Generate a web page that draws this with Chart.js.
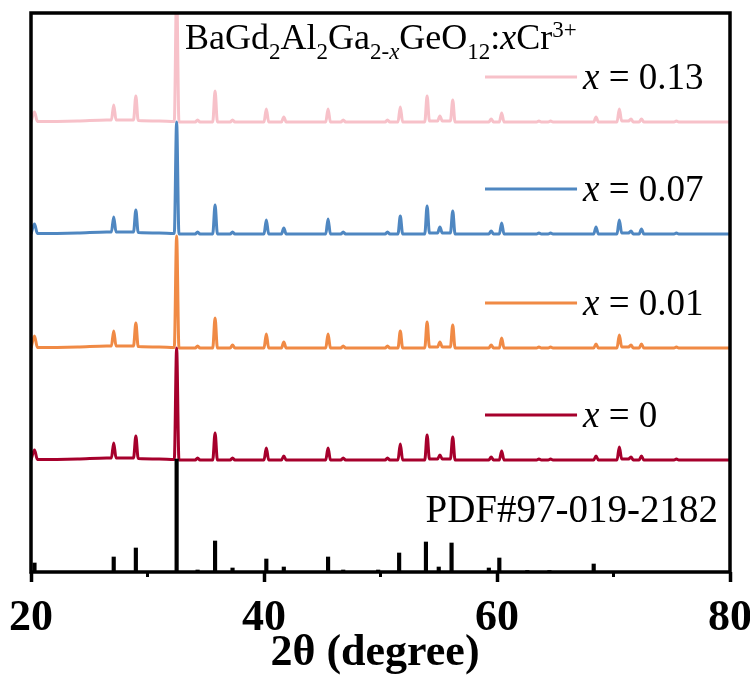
<!DOCTYPE html>
<html>
<head>
<meta charset="utf-8">
<script src="https://cdn.jsdelivr.net/npm/chart.js@4.4.1/dist/chart.umd.min.js"></script>
<style>
  html, body { margin: 0; padding: 0; background: #fff; }
  #wrap { width: 750px; height: 675px; }
</style>
</head>
<body>
<div id="wrap"><canvas id="xrd"></canvas></div>
<script>
// 2theta points shared by the four measured patterns
const twoTheta = [
  20, 20.3, 20.55, 24, 26.5,
  26.9, 27.1, 27.3, 28.8, 29.0, 29.2, 31,
  32.3, 32.5, 32.7, 34.1, 34.3, 34.5, 35.6, 35.8, 36.0,
  37.1, 37.3, 37.5, 40.0, 40.2, 40.4, 41.5, 41.7, 41.9,
  45.3, 45.5, 45.7, 46.6, 46.8, 47.0, 50.4, 50.6, 50.8,
  51.5, 51.7, 51.9, 53.8, 54.0, 54.2, 54.9, 55.1, 55.3,
  56.0, 56.2, 56.4, 59.3, 59.5, 59.7, 60.2, 60.4, 60.6,
  63.4, 63.6, 63.8, 64.4, 64.6, 64.8, 68.3, 68.5, 68.7,
  70.3, 70.5, 70.7, 71.3, 71.5, 71.7, 72.2, 72.4, 72.6,
  75.2, 75.4, 75.6, 80
];

// intensities above each pattern's own baseline
const intX0 = [
  0, 10, 0.5, 1, 2,
  2, 17, 2, 2, 24, 1.5, 1,
  0.5, 112, 0, 0, 2, 0, 0, 27, 0,
  0, 2, 0, 0, 12, 0, 0, 4, 0,
  0, 12, 0, 0, 2, 0, 0, 2, 0,
  0, 16, 0, 0, 25, 1, 1, 5, 1,
  1, 23, 0, 0, 3, 0, 0, 9, 0,
  0, 1, 0, 0, 1, 0, 0, 4, 0,
  0, 13, 1, 1, 3, 0, 0, 4, 0,
  0, 1, 0, 0
];
const intX001 = [
  0, 12, 0.5, 1, 2,
  2, 17, 2, 2, 25, 1.5, 1,
  0.5, 112, 0, 0, 2, 0, 0, 30, 0,
  0, 3, 0, 0, 14, 0, 0, 6, 0,
  0, 14, 0, 0, 2, 0, 0, 2, 0,
  0, 17, 0, 0, 26, 1, 1, 6, 1,
  1, 23, 0, 0, 3, 0, 0, 10, 0,
  0, 1, 0, 0, 1, 0, 0, 4, 0,
  0, 13, 1, 1, 3, 0, 0, 4, 0,
  0, 1, 0, 0
];
const intX007 = [
  0, 10, 0.5, 1, 2,
  2, 17, 2, 2, 24, 1.5, 1,
  0.5, 112, 0, 0, 2, 0, 0, 29, 0,
  0, 2, 0, 0, 14, 0, 0, 6, 0,
  0, 15, 0, 0, 2, 0, 0, 2, 0,
  0, 18, 0, 0, 28, 1, 1, 7, 1,
  1, 23, 0, 0, 3, 0, 0, 11, 0,
  0, 1, 0, 0, 1, 0, 0, 7, 0,
  0, 14, 1, 1, 3, 0, 0, 5, 0,
  0, 1, 0, 0
];
const intX013 = [
  0, 10, 0.5, 1, 2,
  2, 17, 2, 2, 26, 1.5, 1,
  0.5, 135, 0, 0, 2, 0, 0, 31, 0,
  0, 2, 0, 0, 13, 0, 0, 5, 0,
  0, 13, 0, 0, 2, 0, 0, 2, 0,
  0, 15, 0, 0, 26, 1, 1, 6, 1,
  1, 22, 0, 0, 3, 0, 0, 9, 0,
  0, 1, 0, 0, 1, 0, 0, 5, 0,
  0, 13, 1, 1, 3, 0, 0, 3, 0,
  0, 1, 0, 0
];

const sampleLabels = ["0", "0.01", "0.07", "0.13"];
const sampleOffsets = [112, 224, 338, 450];

// reference card sticks
const pdfPos = [20.3, 27.1, 29.0, 32.5, 34.3, 35.8, 37.3, 40.2, 41.7, 45.5, 46.8,
  49.8, 51.6, 53.9, 55.0, 56.1, 59.3, 60.2, 62.6, 64.5, 68.3];
const pdfInt = [9, 15, 24, 113, 2, 31, 4, 13, 5, 15, 2,
  2, 19, 30, 5, 29, 4, 14, 1.5, 1.5, 8];

const xTicks = [20, 40, 60, 80];
const xMinorTicks = [30, 50, 70];
const xTitle = "2θ (degree)";

const SERIF = "'Liberation Serif', 'Times New Roman', serif";
const COLORS = ["#A6002C", "#F08A45", "#4F87C1", "#F7C1C9"];

const titleParts = [
  ["BaGd", "n"], ["2", "sub"], ["Al", "n"], ["2", "sub"], ["Ga", "n"],
  ["2-", "sub"], ["x", "subi"], ["GeO", "n"], ["12", "sub"], [":", "n"],
  ["x", "i"], ["Cr", "n"], ["3+", "sup"]
];

const patterns = [intX0, intX001, intX007, intX013];

const lineSets = patterns.map((ints, i) => ({
  type: "line",
  label: "x = " + sampleLabels[i],
  data: twoTheta.map((t, j) => ({ x: t, y: sampleOffsets[i] + ints[j] })),
  borderColor: COLORS[i],
  borderWidth: 3,
  pointRadius: 0,
  cubicInterpolationMode: "monotone",
}));

const stickSet = {
  type: "bar",
  label: "PDF#97-019-2182",
  data: pdfPos.map((p, i) => ({ x: p, y: pdfInt[i] })),
  backgroundColor: "#000",
  barThickness: 3.5,
};

const decor = {
  id: "decor",
  afterDraw(chart) {
    const { ctx, chartArea: a, scales } = chart;
    const xs = scales.x, ys = scales.y;
    ctx.save();

    // frame
    ctx.strokeStyle = "#000";
    ctx.lineWidth = 3.5;
    ctx.strokeRect(a.left, a.top, a.right - a.left, a.bottom - a.top);

    // minor ticks
    ctx.lineWidth = 3;
    xMinorTicks.forEach((v) => {
      const px = xs.getPixelForValue(v);
      ctx.beginPath();
      ctx.moveTo(px, a.bottom);
      ctx.lineTo(px, a.bottom + 5);
      ctx.stroke();
    });

    // axis title
    ctx.fillStyle = "#000";
    ctx.font = "bold 44px " + SERIF;
    ctx.textAlign = "center";
    ctx.textBaseline = "middle";
    ctx.fillText(xTitle, chart.width / 2, chart.height - 21);

    // legend next to each pattern
    lineSets.forEach((ds, i) => {
      const y = ys.getPixelForValue(sampleOffsets[i] + 45);
      ctx.strokeStyle = ds.borderColor;
      ctx.lineWidth = 3;
      ctx.beginPath();
      ctx.moveTo(xs.getPixelForValue(58.97), y);
      ctx.lineTo(xs.getPixelForValue(66.87), y);
      ctx.stroke();
      let tx = xs.getPixelForValue(67.38);
      ctx.textBaseline = "alphabetic";
      ctx.textAlign = "left";
      ctx.font = "italic 37px " + SERIF;
      ctx.fillText("x", tx, y + 12);
      tx += ctx.measureText("x").width;
      ctx.font = "37px " + SERIF;
      ctx.fillText(" = " + sampleLabels[i], tx, y + 12);
    });

    // card label
    ctx.font = "39px " + SERIF;
    ctx.textAlign = "right";
    ctx.fillText(stickSet.label, xs.getPixelForValue(78.97), ys.getPixelForValue(50));

    // formula
    ctx.textAlign = "left";
    let tx = xs.getPixelForValue(33.22);
    const base = ys.getPixelForValue(523);
    titleParts.forEach(([txt, kind]) => {
      let dy = 0;
      if (kind === "n") ctx.font = "36px " + SERIF;
      else if (kind === "i") ctx.font = "italic 36px " + SERIF;
      else if (kind === "sub") { ctx.font = "23px " + SERIF; dy = 10; }
      else if (kind === "subi") { ctx.font = "italic 23px " + SERIF; dy = 10; }
      else { ctx.font = "23px " + SERIF; dy = -12; }
      ctx.fillText(txt, tx, base + dy);
      tx += ctx.measureText(txt).width;
    });
    ctx.restore();
  },
};

new Chart(document.getElementById("xrd"), {
  type: "line",
  data: { datasets: [stickSet, ...lineSets] },
  options: {
    responsive: true,
    maintainAspectRatio: false,
    animation: false,
    layout: { padding: { left: 31, top: 13, right: 20, bottom: 0 } },
    plugins: { legend: { display: false }, tooltip: { enabled: false } },
    scales: {
      x: {
        type: "linear",
        min: 20,
        max: 80,
        offset: false,
        afterBuildTicks: (axis) => {
          axis.ticks = xTicks.map((v) => ({ value: v }));
        },
        afterFit: (axis) => {
          axis.height = 103;
          axis.paddingLeft = 0;
          axis.paddingRight = 0;
        },
        ticks: {
          color: "#000",
          padding: 15,
          maxRotation: 0,
          autoSkip: false,
          font: { family: SERIF, size: 44, weight: "bold", lineHeight: 1 },
        },
        grid: { offset: false, drawOnChartArea: false, tickLength: 10, tickWidth: 3.5, tickColor: "#000" },
        border: { display: false },
        title: { display: false },
      },
      y: { display: false, min: 0, max: 559 },
    },
  },
  plugins: [decor],
});
</script>
</body>
</html>
